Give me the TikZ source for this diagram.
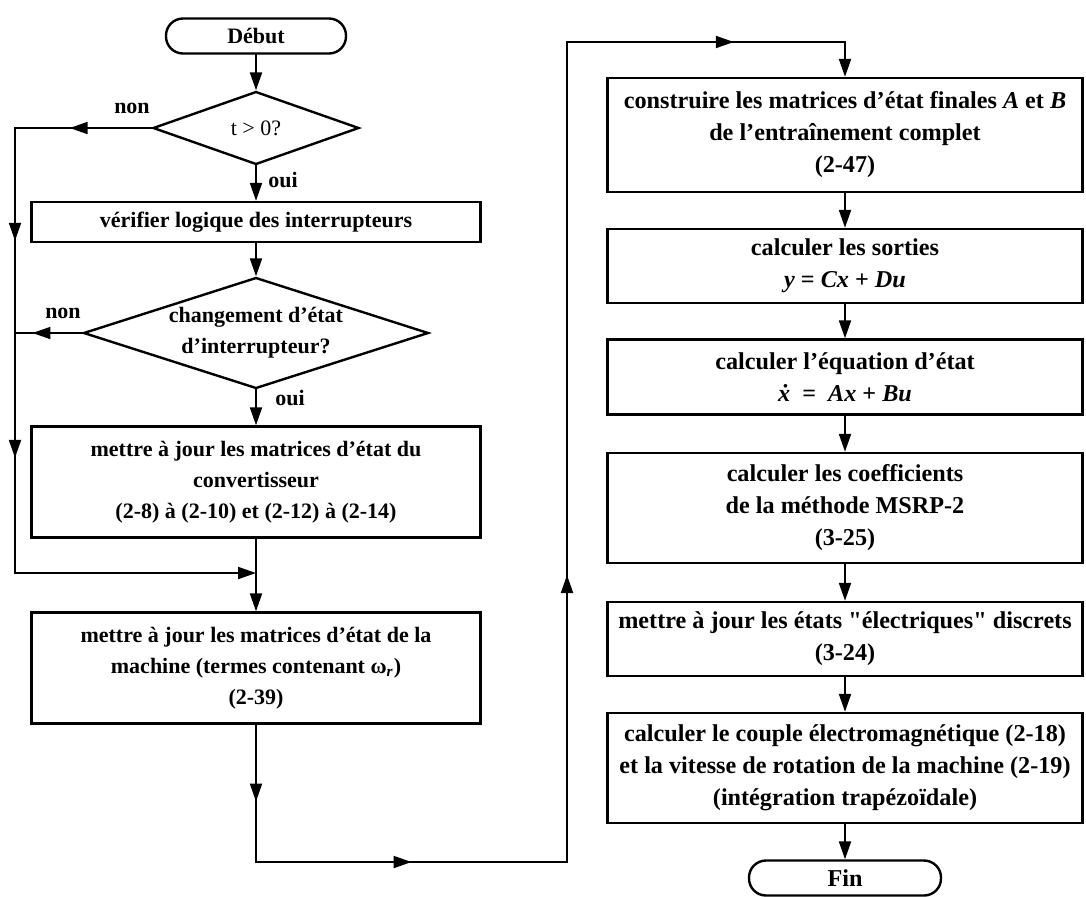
\documentclass[tikz,border=0pt]{standalone}
\usepackage{fontspec}
\setmainfont{Liberation Serif}
\usetikzlibrary{shapes.geometric,arrows.meta,decorations.markings}

\begin{document}
\begin{tikzpicture}[x=0.5pt, y=-0.5pt, >={Triangle[length=9pt,width=6pt]}, line width=1pt, line cap=rect,
  every node/.style={font=\fontsize{11}{15.5}\selectfont\bfseries, align=center},
  boite/.style={draw, line width=1.2pt, minimum height=#1, inner sep=2pt},
  gauche/.style={boite=#1, minimum width=224.5pt},
  droite/.style={boite=#1, minimum width=237.5pt, font=\fontsize{12.1}{16}\selectfont\bfseries},
  terminal/.style={draw, rounded corners=8.5pt, minimum width=#1, minimum height=17.5pt, line width=1.2pt},
  test/.style={draw, diamond, aspect=3, inner sep=0pt, line width=1.2pt},
  midarrow/.style={postaction={decorate}, decoration={markings, mark=at position #1 with {\arrow{>}}}}]
  \useasboundingbox (0,0) rectangle (1086,896);

  % 1. colonne de gauche
  \node[terminal=90pt] (debut) at (256,36) {Début};
  \node[test, minimum width=103pt, minimum height=36.5pt, font=\fontsize{11}{15.5}\selectfont] (t0) at (256,128) {t > 0?};
  \node[gauche=20pt] (verif) at (256,222) {vérifier logique des interrupteurs};
  \node[test, minimum width=172.5pt, minimum height=55.5pt] (chgt) at (256,333) {changement d’état\\d’interrupteur?};
  \node[gauche=55.5pt] (conv) at (256,482) {mettre à jour les matrices d’état du\\convertisseur\\(2-8) à (2-10) et (2-12) à (2-14)};
  \node[gauche=55.5pt] (mach) at (256,668) {mettre à jour les matrices d’état de la\\machine (termes contenant ω\textsubscript{\textit{r}})\\(2-39)};

  % 2. colonne de droite
  \node[droite=57pt] (finales) at (845,135) {construire les matrices d’état finales \textit{A} et \textit{B}\\de l’entraînement complet\\(2-47)};
  \node[droite=37pt] (sorties) at (845,266) {calculer les sorties\\\textit{y} = \textit{Cx} + \textit{Du}};
  \node[droite=37.5pt] (etat) at (845,377) {calculer l’équation d’état\\\textit{\.x} \ = \ \textit{Ax} + \textit{Bu}};
  \node[droite=55pt] (coef) at (845,508) {calculer les coefficients\\de la méthode MSRP-2\\(3-25)};
  \node[droite=37pt] (elec) at (845,639) {mettre à jour les états \textquotedbl électriques\textquotedbl{} discrets\\(3-24)};
  \node[droite=55pt] (couple) at (845,768) {calculer le couple électromagnétique (2-18)\\et la vitesse de rotation de la machine (2-19)\\(intégration trapézoïdale)};
  \node[terminal=96pt, font=\fontsize{12.1}{16}\selectfont\bfseries] (fin) at (845,878) {Fin};

  % 3. etiquettes
  \node (non1) at (132,108) {non};
  \node (oui1) at (283,180) {oui};
  \node (non2) at (63,313) {non};
  \node (oui2) at (290,398) {oui};

  % 4. points de passage
  \coordinate (g1) at (15,128);
  \coordinate (g2) at (15,333);
  \coordinate (g3) at (15,573);
  \coordinate (j) at (256,573);
  \coordinate (c1) at (256,862);
  \coordinate (c2) at (567,862);
  \coordinate (c3) at (567,42);
  \coordinate (c4) at (845,42);

  % 5. liaisons
  \draw[->] (debut) -- (t0);
  \draw[->] (t0) -- (verif);
  \draw[->] (verif) -- (chgt);
  \draw[->] (chgt) -- (conv);
  \draw (conv) -- (j);
  \draw[->] (j) -- (mach);
  \draw[midarrow=0.6] (t0.west) -- (g1);
  \draw[midarrow=0.55] (g1) -- (g2);
  \draw[midarrow=0.74] (chgt.west) -- (g2);
  \draw[midarrow=0.52] (g2) -- (g3);
  \draw[->] (g3) -- (j);
  \draw[midarrow=0.56] (mach) -- (c1);
  \draw[midarrow=0.5] (c1) -- (c2);
  \draw[midarrow=0.35] (c2) -- (c3);
  \draw[midarrow=0.6] (c3) -- (c4);
  \draw[->] (c4) -- (finales);
  \draw[->] (finales) -- (sorties);
  \draw[->] (sorties) -- (etat);
  \draw[->] (etat) -- (coef);
  \draw[->] (coef) -- (elec);
  \draw[->] (elec) -- (couple);
  \draw[->] (couple) -- (fin);
\end{tikzpicture}
\end{document}
